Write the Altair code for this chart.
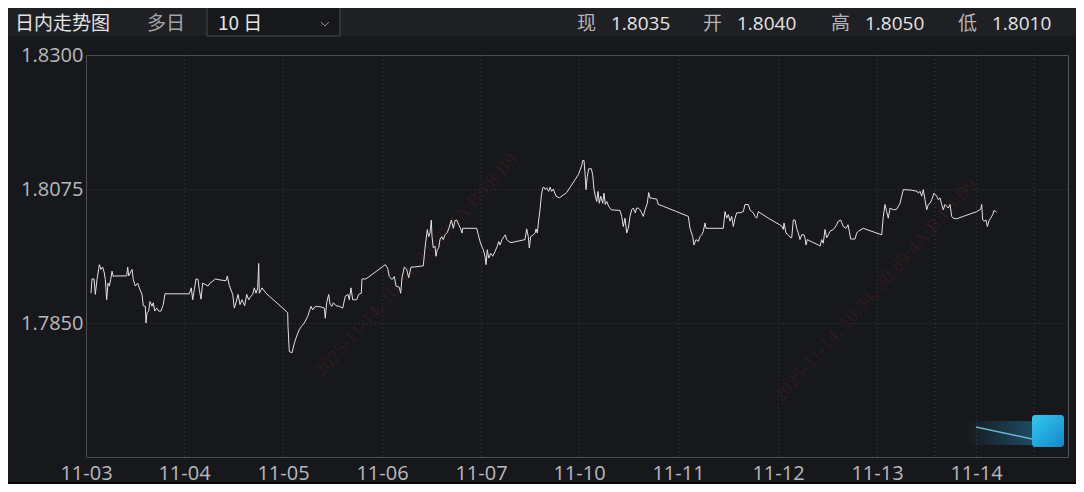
import altair as alt
import pandas as pd

# ---- price series: sample index along the ordinal trading-time axis, price ----
idx_a = [5.0, 6.0, 8.0, 9.3, 11.0, 12.7, 13.3, 15.0, 16.7, 18.3,
         19.3, 20.7, 22.0, 23.3, 24.7, 26.0, 27.3, 28.7, 40.7, 41.7,
         42.7, 46.0, 47.3, 49.3, 51.7, 53.3, 56.0, 57.3, 59.3, 60.0,
         61.0, 62.7, 64.0, 66.0, 67.3, 68.7, 70.7, 72.7, 75.0, 77.3,
         79.0, 103.3, 105.3, 106.7, 108.3, 110.0, 112.0, 113.3, 115.0, 116.7,
         120.0, 122.0, 124.0, 126.7, 129.3, 135.0, 140.0, 141.3, 143.3, 146.7,
         148.3, 150.0, 152.0, 154.0, 156.0, 158.7, 160.7, 162.7, 165.0, 166.7,
         168.3, 170.0, 171.7, 172.7, 173.3, 176.0, 180.0, 200.0, 201.7, 202.0,
         203.3, 206.0, 208.3, 210.7, 213.3, 215.3, 218.3, 221.7, 225.0, 226.7,
         228.7, 230.7, 235.0, 238.3, 239.3, 240.7, 242.7, 244.0, 246.0, 247.3,
         250.0, 253.3, 256.7, 259.3, 262.0, 263.3, 265.0, 266.7, 270.7, 272.7,
         275.3, 276.0, 280.0, 299.3, 301.7, 303.3, 306.0, 308.3, 310.0, 313.3,
         314.7, 316.0, 318.3, 320.7, 322.7, 325.0, 328.3]
price_a = [1.7900, 1.7924, 1.7924, 1.7898, 1.7923, 1.7941, 1.7948, 1.7940, 1.7944, 1.7934,
           1.7923, 1.7889, 1.7917, 1.7912, 1.7923, 1.7937, 1.7928, 1.7929, 1.7929, 1.7944,
           1.7929, 1.7940, 1.7923, 1.7912, 1.7917, 1.7909, 1.7898, 1.7879, 1.7878, 1.7850,
           1.7867, 1.7870, 1.7886, 1.7878, 1.7884, 1.7870, 1.7875, 1.7870, 1.7870, 1.7881,
           1.7899, 1.7899, 1.7909, 1.7889, 1.7906, 1.7924, 1.7923, 1.7906, 1.7890, 1.7917,
           1.7914, 1.7912, 1.7917, 1.7920, 1.7924, 1.7922, 1.7921, 1.7929, 1.7913, 1.7898,
           1.7875, 1.7884, 1.7898, 1.7881, 1.7889, 1.7879, 1.7898, 1.7889, 1.7895, 1.7898,
           1.7909, 1.7900, 1.7909, 1.7950, 1.7900, 1.7909, 1.7900, 1.7870, 1.7867, 1.7844,
           1.7802, 1.7800, 1.7816, 1.7828, 1.7839, 1.7844, 1.7850, 1.7861, 1.7878, 1.7872,
           1.7877, 1.7878, 1.7877, 1.7875, 1.7858, 1.7884, 1.7898, 1.7881, 1.7878, 1.7884,
           1.7879, 1.7878, 1.7875, 1.7895, 1.7898, 1.7889, 1.7909, 1.7889, 1.7889, 1.7898,
           1.7900, 1.7924, 1.7924, 1.7948, 1.7942, 1.7928, 1.7923, 1.7928, 1.7912, 1.7910,
           1.7900, 1.7926, 1.7944, 1.7940, 1.7926, 1.7944, 1.7944]

idx_b = [337.3, 339.0, 341.3, 342.7, 344.0, 345.3, 346.0, 347.3, 349.0, 350.0,
         351.3, 352.7, 354.0, 355.7, 357.3, 359.0, 361.3, 363.3, 365.3, 367.3,
         369.0, 370.7, 372.7, 374.7, 376.0, 376.7, 390.7, 392.3, 394.0, 395.7,
         397.3, 399.0, 400.0, 401.3, 402.7, 404.7, 406.7, 409.0, 411.3, 412.7,
         414.0, 416.0, 418.0, 419.3, 420.7, 422.7, 425.0, 439.0, 440.7, 442.3,
         443.3, 444.7, 447.3, 449.0, 450.0, 451.3, 452.7, 454.0, 455.3, 456.7,
         458.0, 459.3, 460.7, 462.7, 464.0, 465.7, 467.3, 470.0, 473.3, 480.7,
         492.3, 495.7, 496.7, 498.0, 499.0, 500.0, 501.3, 502.7, 505.3, 506.7,
         508.0, 509.3, 510.7, 512.0, 513.3, 514.7, 516.7, 518.0, 519.3, 520.7,
         522.7, 525.3, 534.0, 535.7, 537.3, 539.0, 540.7, 542.3, 544.0, 545.7,
         547.3, 549.3, 550.7, 552.3, 554.0, 555.7, 557.3, 559.0, 561.3, 562.7,
         564.0, 570.7, 572.3, 577.3, 590.7, 602.3, 604.0, 606.7, 608.0, 610.0,
         612.3, 614.0, 615.7, 617.3, 619.0, 620.0, 637.3, 639.0, 640.7, 642.3,
         644.0, 645.7, 647.3, 649.0, 650.7, 654.0]
price_b = [1.7946, 1.7976, 1.8007, 1.7995, 1.8001, 1.8023, 1.7995, 1.7976, 1.7979, 1.7962,
           1.7973, 1.7976, 1.7990, 1.7995, 1.7990, 1.7998, 1.8002, 1.8011, 1.8023, 1.8009,
           1.8022, 1.8023, 1.8015, 1.8008, 1.8001, 1.8009, 1.8009, 1.7998, 1.7987, 1.7979,
           1.7973, 1.7962, 1.7948, 1.7973, 1.7959, 1.7967, 1.7962, 1.7970, 1.7979, 1.7987,
           1.7981, 1.7990, 1.7995, 1.7998, 1.7990, 1.7987, 1.7985, 1.7990, 1.8008, 1.7995,
           1.7976, 1.7995, 1.7998, 1.8001, 1.8008, 1.8001, 1.8023, 1.8040, 1.8063, 1.8077,
           1.8078, 1.8074, 1.8077, 1.8071, 1.8078, 1.8071, 1.8075, 1.8063, 1.8060, 1.8069,
           1.8099, 1.8114, 1.8123, 1.8123, 1.8102, 1.8074, 1.8096, 1.8109, 1.8109, 1.8099,
           1.8074, 1.8063, 1.8054, 1.8071, 1.8051, 1.8063, 1.8051, 1.8068, 1.8049, 1.8054,
           1.8046, 1.8040, 1.8039, 1.8029, 1.8012, 1.8026, 1.8001, 1.8009, 1.8029, 1.8040,
           1.8043, 1.8035, 1.8043, 1.8043, 1.8040, 1.8035, 1.8029, 1.8040, 1.8051, 1.8069,
           1.8060, 1.8058, 1.8049, 1.8046, 1.8037, 1.8029, 1.8009, 1.7995, 1.7981, 1.7990,
           1.7987, 1.7995, 1.7998, 1.8004, 1.8018, 1.8009, 1.8009, 1.8037, 1.8026, 1.8032,
           1.8021, 1.8029, 1.8012, 1.8026, 1.8035, 1.8035]

idx_c = [657.3, 659.0, 662.3, 664.0, 665.7, 667.3, 669.0, 670.7, 672.3, 682.3,
         695.7, 697.3, 698.0, 700.0, 702.3, 704.0, 705.7, 707.3, 709.0, 710.7,
         712.3, 714.0, 715.7, 718.0, 719.0, 720.0, 721.3, 732.3, 734.0, 735.7,
         737.3, 739.0, 740.7, 742.3, 744.0, 747.3, 750.0, 752.3, 754.7, 757.3,
         760.0, 762.0, 763.3, 764.7, 769.0, 770.7, 772.3, 777.3, 795.7, 797.3,
         799.0, 800.7, 802.3, 804.0, 807.3, 810.7, 814.0, 815.7, 817.3, 825.7,
         831.3, 832.3, 834.0, 835.7, 837.3, 839.0, 840.7, 842.3, 844.0, 845.7,
         848.0, 850.7, 852.3, 854.0, 855.7, 857.3, 859.0, 860.7, 862.3, 864.0,
         865.7, 867.3, 870.7, 877.3, 890.7, 894.7, 895.7, 896.7, 898.0, 900.0,
         901.3, 903.3, 904.7, 906.7, 908.0, 909.7, 910.7]
price_c = [1.8037, 1.8049, 1.8049, 1.8040, 1.8037, 1.8035, 1.8029, 1.8026, 1.8037, 1.8026,
           1.8013, 1.8007, 1.8018, 1.8001, 1.7998, 1.7994, 1.7993, 1.8023, 1.8023, 1.8009,
           1.8001, 1.7990, 1.7998, 1.7998, 1.7993, 1.7981, 1.7990, 1.7981, 1.7979, 1.7990,
           1.7984, 1.8007, 1.7993, 1.7998, 1.8004, 1.8007, 1.8013, 1.8021, 1.8023, 1.8012,
           1.8009, 1.8015, 1.8004, 1.7991, 1.7991, 1.8001, 1.8004, 1.8009, 1.7998, 1.8029,
           1.8049, 1.8037, 1.8026, 1.8043, 1.8040, 1.8041, 1.8051, 1.8063, 1.8074, 1.8073,
           1.8071, 1.8068, 1.8071, 1.8063, 1.8074, 1.8057, 1.8040, 1.8049, 1.8051, 1.8057,
           1.8068, 1.8063, 1.8057, 1.8060, 1.8049, 1.8040, 1.8049, 1.8046, 1.8043, 1.8049,
           1.8029, 1.8026, 1.8025, 1.8029, 1.8037, 1.8041, 1.8049, 1.8023, 1.8021, 1.8023,
           1.8012, 1.8023, 1.8026, 1.8032, 1.8039, 1.8037, 1.8036]

# axis definitions
day_ticks = [0, 98, 197, 296, 395, 493, 592, 692, 791, 890]
day_labels = ["11-03", "11-04", "11-05", "11-06", "11-07",
              "11-10", "11-11", "11-12", "11-13", "11-14"]
extra_grid = [849, 948]
y_ticks = [1.7625, 1.7850, 1.8075, 1.8300]
x_end = 982
y_lo, y_hi = 1.7625, 1.8300

# header quote values
quote_names = ["现", "开", "高", "低"]
quote_values = ["1.8035", "1.8040", "1.8050", "1.8010"]
watermark_text = "2025-11-14, 10:34, 30:89:4A:B:F8:B9"

W, H = 982, 402
PAD_L, PAD_T = 78, 47
PAD_R = 1068 - PAD_L - W
PAD_B = 476 - PAD_T - H

BG = "#17181c"
GRID = "#3d3e44"
LAT = "Open Sans, Noto Sans, sans-serif"
CJK = "Noto Sans CJK SC, sans-serif"
HDR_Y = -31

df = pd.DataFrame({"idx": idx_a + idx_b + idx_c,
                   "price": price_a + price_b + price_c})

lab_expr = ("[" + ",".join("'%s'" % s for s in day_labels) + "][indexof(["
            + ",".join(str(v) for v in day_ticks) + "], datum.value)]")

xscale = alt.Scale(domain=[0, x_end], nice=False, zero=False)
yscale = alt.Scale(domain=[y_lo, y_hi], nice=False, zero=False)

line = alt.Chart(df).mark_line(color="#e2e2e2", strokeWidth=1).encode(
    x=alt.X("idx:Q", scale=xscale, title=None,
            axis=alt.Axis(values=day_ticks, labelExpr=lab_expr, grid=True,
                          gridColor=GRID, gridDash=[1, 3], gridWidth=1,
                          domain=False, ticks=False, labelFont=LAT,
                          labelFontSize=20, labelColor="#b9b9bb",
                          labelPadding=6, labelFlush=False,
                          labelOverlap=False, labelBound=False)),
    y=alt.Y("price:Q", scale=yscale, title=None,
            axis=alt.Axis(values=y_ticks,
                          labelExpr="datum.value < 1.77 ? '' : format(datum.value, '.4f')",
                          grid=True, gridColor=GRID, gridDash=[1, 3],
                          domain=False, ticks=False, labelFont=LAT,
                          labelFontSize=20, labelColor="#b9b9bb",
                          labelPadding=3, labelOverlap=False, labelBound=False)),
)

extra = alt.Chart(pd.DataFrame({"g": extra_grid})).mark_rule(
    color=GRID, strokeDash=[1, 3], strokeWidth=1
).encode(x=alt.X("g:Q", scale=xscale))

one = pd.DataFrame({"k": [0]})

# faint diagonal watermark (kept fully inside the plot)
wm_layers = []
for cx, cy in [(789, 235), (330, 210)]:
    wm_layers.append(
        alt.Chart(pd.DataFrame({"s": [watermark_text]})).mark_text(
            align="center", baseline="middle", font="Liberation Serif, DejaVu Serif, serif",
            fontSize=19, angle=312, color="#2f1a1e"
        ).encode(x=alt.value(cx), y=alt.value(cy), text="s:N")
    )

# header bar
header_bg = alt.Chart(one).mark_rect(color="#1f2024").encode(
    x=alt.value(-PAD_L), x2=alt.value(W + PAD_R), y=alt.value(-PAD_T), y2=alt.value(-19))
bottom_bar = alt.Chart(one).mark_rect(color="#050506").encode(
    x=alt.value(-PAD_L), x2=alt.value(W + PAD_R), y=alt.value(H + 25), y2=alt.value(H + PAD_B))
dropdown = alt.Chart(one).mark_rect(color=BG, stroke="#4a4b50", strokeWidth=1).encode(
    x=alt.value(121), x2=alt.value(254), y=alt.value(-60), y2=alt.value(-19))


def label(text, x, color, font, size=18):
    return alt.Chart(pd.DataFrame({"s": [text]})).mark_text(
        align="left", baseline="middle", font=font, fontSize=size, color=color
    ).encode(x=alt.value(x), y=alt.value(HDR_Y), text="s:N")


hdr = [
    label("日内走势图", -71, "#e4e4e4", CJK, 19),
    label("多日", 61, "#a5a5a8", CJK, 19),
    label("10 日", 132, "#e4e4e4", CJK, 19),
]
qx = [491, 617, 745, 872]
for name, val, x in zip(quote_names, quote_values, qx):
    hdr.append(label(name, x, "#b5b5b8", CJK, 19))
    hdr.append(label(val, x + 34, "#e4e4e4", LAT, 19))

chevron = alt.Chart(one).mark_point(
    shape="M-1,-0.5L0,0.5L1,-0.5", filled=False, color="#cfcfd2", size=60, strokeWidth=1
).encode(x=alt.value(239), y=alt.value(HDR_Y))

# blue corner badge
badge_tail = alt.Chart(one).mark_rect(
    color=alt.LinearGradient(gradient="linear", x1=0, x2=1, y1=0, y2=0,
                             stops=[alt.GradientStop(color="rgba(40,170,230,0)", offset=0),
                                    alt.GradientStop(color="rgba(40,170,230,0.35)", offset=1)])
).encode(x=alt.value(880), x2=alt.value(946), y=alt.value(366), y2=alt.value(390))
badge_streak = alt.Chart(one).mark_rule(color="#7fd6f5", strokeWidth=1.5, opacity=0.8).encode(
    x=alt.value(890), x2=alt.value(946), y=alt.value(372), y2=alt.value(384))
badge = alt.Chart(one).mark_rect(
    cornerRadius=3,
    color=alt.LinearGradient(gradient="linear", x1=0, x2=1, y1=0, y2=1,
                             stops=[alt.GradientStop(color="#33c9f2", offset=0),
                                    alt.GradientStop(color="#1587c9", offset=1)])
).encode(x=alt.value(946), x2=alt.value(978), y=alt.value(360), y2=alt.value(392))

chart = alt.layer(
    *wm_layers, header_bg, bottom_bar, dropdown, chevron, *hdr,
    extra, badge_tail, badge_streak, badge, line
).properties(
    width=W, height=H,
    padding={"left": PAD_L, "top": PAD_T, "right": PAD_R, "bottom": PAD_B},
    autosize=alt.AutoSizeParams(type="none"),
    background=BG,
).configure_view(stroke="#55565b", strokeWidth=1, fill=BG)

chart.save("out.html", embed_options={"renderer": "svg", "actions": False})
